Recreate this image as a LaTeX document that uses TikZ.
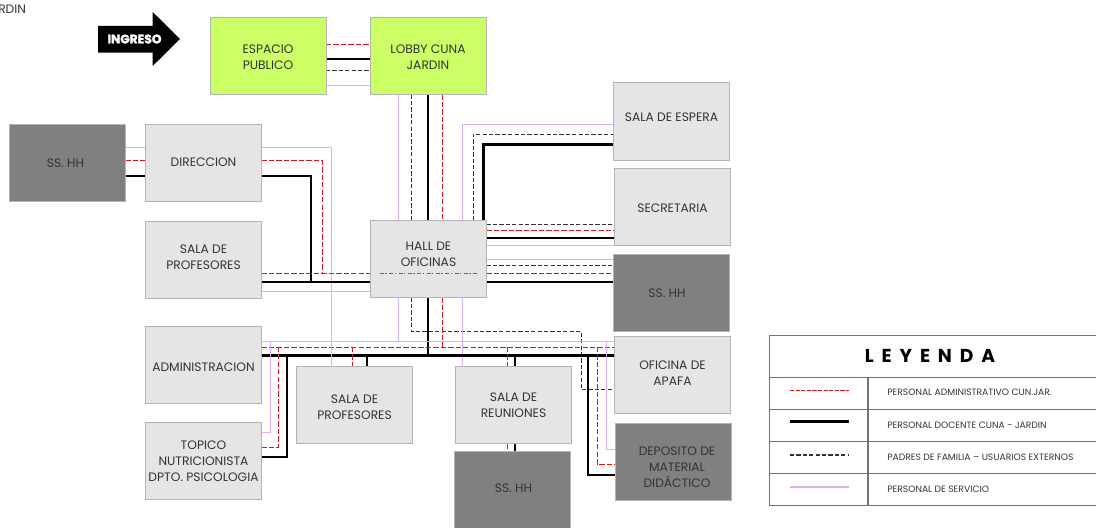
\documentclass[tikz,border=0pt]{standalone}
\usepackage{fontspec}
\setmainfont{Poppins}
\newfontfamily\ingf[UprightFont=* Bold,FakeBold=2.2]{Poppins}
\definecolor{vio}{HTML}{DFAEF6}
\definecolor{rd}{HTML}{D81818}
\definecolor{bd}{HTML}{B4B4B4}
\definecolor{lg}{HTML}{E5E5E5}
\definecolor{dg}{HTML}{808080}
\definecolor{gr}{HTML}{CCFF66}
\definecolor{tx}{HTML}{333333}
\tikzset{
 boxb/.style={draw=bd,line width=0.75pt,minimum width=87pt,minimum height=57.75pt,inner sep=0pt,outer sep=0pt,align=center,font=\fontsize{9.2}{12}\selectfont,text=tx},
 plain/.style={boxb,fill=lg},
 dark/.style={boxb,fill=dg},
 green/.style={boxb,fill=gr},
 ghost/.style={boxb,draw=none,fill=none},
 lbl/.style={inner sep=0pt,align=center,font=\fontsize{9.2}{12}\selectfont,text=tx},
 lr/.style={draw=rd,line width=0.7pt,dash pattern=on 4pt off 1.6pt},
 lb/.style={draw=black,line width=1.7pt},
 ld/.style={draw=black!80,line width=0.7pt,dash pattern=on 3.2pt off 1.6pt},
 lv/.style={draw=vio,line width=0.8pt},
 gl/.style={draw=black!55,line width=0.7pt},
 legt/.style={inner sep=0pt,anchor=west,font=\fontsize{6.9}{8}\selectfont,text=tx},
}
\begin{document}
\begin{tikzpicture}[x=0.75pt,y=-0.75pt]
\useasboundingbox (0,0) rectangle (1096,528);
% boxes are placed first, so that connectors can name them; drawn on top later
\path[overlay]
 node[ghost] (esp) at (268,56) {}
 node[ghost] (lob) at (428,56) {}
 node[ghost] (ssl) at (67.5,163) {}
 node[ghost] (dir) at (203.5,163) {}
 node[ghost] (prf) at (203.5,260) {}
 node[ghost] (adm) at (203.5,365) {}
 node[ghost] (tpc) at (203.5,461) {}
 node[ghost] (prg) at (354.5,405) {}
 node[ghost] (hal) at (428.5,259) {}
 node[ghost] (esa) at (671.5,121.5) {}
 node[ghost] (sec) at (672.5,206.5) {}
 node[ghost] (ssr) at (671.5,293) {}
 node[ghost] (ofi) at (672.5,375) {}
 node[ghost] (dep) at (673.5,461.5) {}
 node[ghost] (reu) at (513.5,405) {}
 node[ghost] (ssb) at (512.5,489.5) {};
% espacio - lobby
\draw[lr] (esp.east |- 0,44) -- (lob.west |- 0,44);
\draw[lb] (esp.east |- 0,59) -- (lob.west |- 0,59);
\draw[ld] (esp.east |- 0,70.5) -- (lob.west |- 0,70.5);
\draw[lv] (esp.east |- 0,85.5) -- (lob.west |- 0,85.5);
% lobby - hall
\draw[lv] (398.5,0 |- lob.south) -- (398.5,0 |- hal.north);
\draw[ld] (411.5,0 |- lob.south) -- (411.5,0 |- hal.north);
\draw[lb] (428,0 |- lob.south) -- (428,0 |- hal.north);
\draw[lr] (442,0 |- lob.south) -- (442,0 |- hal.north);
% hall down
\draw[lv] (398.5,0 |- hal.south) -- (398.5,341.5);
\draw[ld] (411.5,0 |- hal.south) |- (581,331.5) |- (ofi.west |- 0,389.5);
\draw[lb] (428,0 |- hal.south) -- (428,355.5);
\draw[lr] (442,0 |- hal.south) -- (442,347);
\draw[lv] (462.5,0 |- hal.south) -- (462.5,0 |- reu.north);
% mains
\draw[lv] (adm.east |- 0,341.5) -- (ofi.west |- 0,341.5);
\draw[lr] (adm.east |- 0,347) -- (ofi.west |- 0,347);
\draw[lb] (adm.east |- 0,355.5) -- (ofi.west |- 0,355.5);
% ss - direccion
\draw[lv] (ssl.east |- 0,147.5) -- (dir.west |- 0,147.5);
\draw[lr] (ssl.east |- 0,160.5) -- (dir.west |- 0,160.5);
\draw[lb] (ssl.east |- 0,176) -- (dir.west |- 0,176);
% direccion - hall
\draw[lv] (dir.east |- 0,147.5) -| (331.5,0 |- prg.north);
\draw[lr] (dir.east |- 0,160.5) -| (322,273);
\draw[lb] (dir.east |- 0,176) -| (311,282);
% profesores - hall
\draw[lr] (prf.east |- 0,273) -- (hal.west |- 0,273);
\draw[lb] (prf.east |- 0,282) -- (hal.west |- 0,282);
\draw[lv] (prf.east |- 0,291.5) -- (hal.west |- 0,291.5);
% espera
\draw[lv] (462.5,0 |- hal.north) |- (esa.west |- 0,124.5);
\draw[ld] (473,0 |- hal.north) |- (esa.west |- 0,134);
\draw[lb] (483.5,0 |- hal.north) |- (esa.west |- 0,144.5);
% secretaria
\draw[ld] (hal.east |- 0,224) -- (sec.west |- 0,224);
\draw[lr] (hal.east |- 0,230.5) -- (sec.west |- 0,230.5);
\draw[lb] (hal.east |- 0,238) -- (sec.west |- 0,238);
\draw[lv] (hal.east |- 0,245.5) -- (sec.west |- 0,245.5);
% ss right
\draw[lv] (hal.east |- 0,259.5) -- (ssr.west |- 0,259.5);
\draw[ld] (hal.east |- 0,265) -- (ssr.west |- 0,265);
\draw[lr] (hal.east |- 0,273) -- (ssr.west |- 0,273);
\draw[lb] (hal.east |- 0,282) -- (ssr.west |- 0,282);
% topico
\draw[lv] (tpc.east |- 0,432.5) -| (270.5,341.5);
\draw[lr] (tpc.east |- 0,447.5) -| (278,347);
\draw[lb] (tpc.east |- 0,457) -| (287,355.5);
% sala profesores 2
\draw[lr] (352.7,347) -- (352.7,0 |- prg.north);
\draw[lb] (367,355.5) -- (367,0 |- prg.north);
% reuniones
\draw[lr] (507.7,347) -- (507.7,0 |- reu.north);
\draw[lb] (515,355.5) -- (515,0 |- reu.north);
\draw[lr] (507.7,0 |- reu.south) -- (507.7,0 |- ssb.north);
\draw[lb] (515,0 |- reu.south) -- (515,0 |- ssb.north);
% deposito
\draw[lv] (606.5,341.5) |- (dep.west |- 0,449.5);
\draw[lr] (597,347) |- (dep.west |- 0,464);
\draw[lb] (588,355.5) |- (dep.west |- 0,475);
% boxes
\node[green] (esp) at (268,56) {};
\node[lbl] (espt) at (268,57.5) {ESPACIO\\PUBLICO};
\node[green] (lob) at (428,56) {};
\node[lbl] (lobt) at (428,57.5) {LOBBY CUNA\\JARDIN};
\node[dark] (ssl) at (67.5,163) {};
\node[lbl] (sslt) at (65.5,163) {SS. HH};
\node[plain] (dir) at (203.5,163) {\raisebox{1pt}{DIRECCION}};
\node[plain] (prf) at (203.5,260) {};
\node[lbl] (prft) at (203.5,257.5) {SALA DE\\PROFESORES};
\node[plain] (adm) at (203.5,365) {};
\node[lbl] (admt) at (203.5,367) {ADMINISTRACION};
\node[plain] (tpc) at (203.5,461) {TOPICO\\NUTRICIONISTA\\DPTO. PSICOLOGIA};
\node[plain] (prg) at (354.5,405) {};
\node[lbl] (prgt) at (354.5,407) {SALA DE\\PROFESORES};
\node[plain] (hal) at (428.5,259) {};
\node[lbl] (halt) at (428.5,254) {HALL DE\\OFICINAS};
\coordinate (hala) at (380,273); \coordinate (halb) at (477,273);
\draw[draw=black!60,line width=0.35pt,dash pattern=on 3pt off 1pt on 1pt off 2pt] (hala) -- (halb);
\node[plain] (esa) at (671.5,121.5) {};
\node[lbl] (esat) at (671.5,117.5) {SALA DE ESPERA};
\node[plain] (sec) at (672.5,206.5) {};
\node[lbl] (sect) at (672.5,208) {SECRETARIA};
\node[dark] (ssr) at (671.5,293) {};
\node[lbl] (ssrt) at (667,293) {SS. HH};
\node[plain] (ofi) at (672.5,375) {};
\node[lbl] (ofit) at (672.5,373) {OFICINA DE\\APAFA};
\node[dark] (dep) at (673.5,461.5) {};
\node[lbl] (dept) at (677,467) {DEPOSITO DE\\MATERIAL\\DIDÁCTICO};
\node[plain] (reu) at (513.5,405) {SALA DE\\REUNIONES};
\node[dark] (ssb) at (512.5,489.5) {};
\node[lbl] (ssbt) at (513.5,488) {SS. HH};
% clipped title
\node[lbl,anchor=west] (ttl) at (-2,9) {RDIN};
% ingreso arrow
\fill[black] (98,26) -- (152.7,26) -- (152.7,12) -- (180,39) -- (152.7,66) -- (152.7,52.7) -- (98,52.7) -- cycle;
\node[inner sep=0pt,text=white,font=\fontsize{9.2}{10}\ingf\selectfont] (ing) at (134.5,39) {INGRESO};
% legend
\draw[gl] (769.5,335.5) rectangle (1096,505.5);
\node[inner sep=0pt,font=\fontsize{14}{16}\bfseries\selectfont] (leg) at (930,356) {\spaceskip=5.9pt L E Y E N D A};
\coordinate (lga) at (769.5,377.3); \coordinate (lgb) at (1096,377.3);
\coordinate (lgc) at (769.5,409.3); \coordinate (lgd) at (1096,409.3);
\coordinate (lge) at (769.5,441.3); \coordinate (lgf) at (1096,441.3);
\coordinate (lgg) at (769.5,473.3); \coordinate (lgh) at (1096,473.3);
\coordinate (lgi) at (868,377.3); \coordinate (lgj) at (868,505.5);
\draw[gl] (lga) -- (lgb); \draw[gl] (lgc) -- (lgd); \draw[gl] (lge) -- (lgf); \draw[gl] (lgg) -- (lgh);
\draw[gl,line width=1pt] (lgi) -- (lgj);
\coordinate (s1a) at (790,390.7); \coordinate (s1b) at (849,390.7);
\coordinate (s2a) at (790,421.7); \coordinate (s2b) at (849,421.7);
\coordinate (s3a) at (790,455); \coordinate (s3b) at (849,455);
\coordinate (s4a) at (790,487); \coordinate (s4b) at (849,487);
\draw[lr,line width=1pt,dash pattern=on 3.2pt off 1pt] (s1a) -- (s1b);
\draw[lb,line width=2.1pt] (s2a) -- (s2b);
\draw[ld,line width=0.9pt] (s3a) -- (s3b);
\draw[lv,line width=1.1pt] (s4a) -- (s4b);
\node[legt] (t1) at (887,392.5) {PERSONAL ADMINISTRATIVO CUN.JAR.};
\node[legt] (t2) at (887,425) {PERSONAL DOCENTE CUNA - JARDIN};
\node[legt] (t3) at (887,457) {PADRES DE FAMILIA – USUARIOS EXTERNOS};
\node[legt] (t4) at (887,489) {PERSONAL DE SERVICIO};
\end{tikzpicture}
\end{document}
